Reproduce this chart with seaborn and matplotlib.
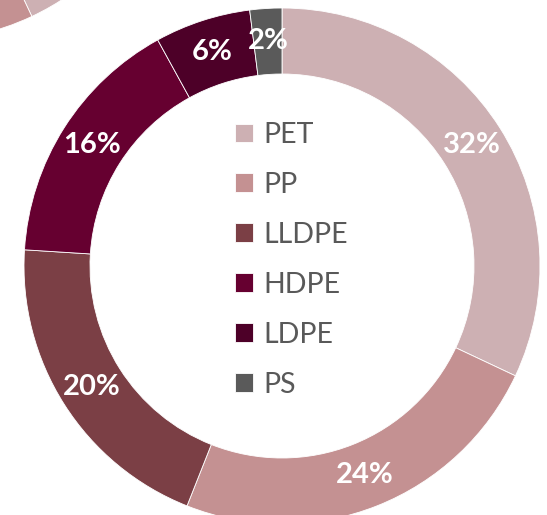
import matplotlib
matplotlib.use("Agg")
from matplotlib import pyplot as plt
import seaborn as sns

# data
polymers = ["PET", "PP", "LLDPE", "HDPE", "LDPE", "PS"]
shares = [32, 24, 20, 16, 6, 2]
colours = ["#CDB0B3", "#C49192", "#7B3F45", "#660030", "#4D0028", "#5A5A5A"]

# neighbouring chart, only its edge shows in the top left corner
neighbour_polymers = ["PET", "PP"]
neighbour_shares = [43, 57]

sns.set_theme(style="white")
plt.rcParams["font.family"] = ["Lato", "DejaVu Sans"]

W, H = 547, 515
fig = plt.figure(figsize=(W / 100, H / 100), dpi=100)
ax = fig.add_axes([0, 0, 1, 1])

R = 258
ring = 66

pal = sns.color_palette(colours)

wedges, texts, autotexts = ax.pie(
    shares, colors=pal, startangle=90, counterclock=False,
    radius=R, center=(282, 249),
    wedgeprops=dict(width=ring, edgecolor="white", linewidth=0.6),
    autopct="%.0f%%", pctdistance=(R - ring / 2) / R,
    textprops=dict(color="white", fontsize=21, fontweight="bold"),
)

ax.pie(
    neighbour_shares, colors=pal[:2], startangle=90, counterclock=False,
    radius=R, center=(-78, 732),
    wedgeprops=dict(width=ring, edgecolor="white", linewidth=0.6),
)

ax.set_xlim(0, W)
ax.set_ylim(0, H)
ax.set_aspect("equal")
ax.axis("off")

leg = ax.legend(
    wedges, polymers, loc="upper left", bbox_to_anchor=(235 / W, 1 - 122 / H),
    frameon=False, fontsize=20.5, handlelength=0.64, handleheight=0.64,
    handletextpad=0.35, labelspacing=0.84, borderpad=0, borderaxespad=0,
)
for t in leg.get_texts():
    t.set_color("#595959")

fig.savefig("out.png", dpi=100)
